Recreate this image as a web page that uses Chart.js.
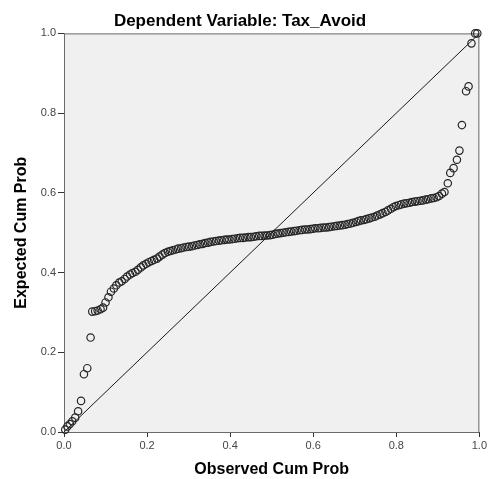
<!DOCTYPE html>
<html>
<head>
<meta charset="utf-8">
<script src="https://cdn.jsdelivr.net/npm/chart.js@4.4.1/dist/chart.umd.min.js"></script>
<style>
  html, body { margin: 0; padding: 0; background: #ffffff; }
  #wrap { width: 489px; height: 479px; }
</style>
</head>
<body>
<div id="wrap"><canvas id="ppChart" width="489" height="479"></canvas></div>
<script>
// Normal P-P plot of regression standardized residual
const chartTitle = 'Dependent Variable: Tax_Avoid';
const xTitle = 'Observed Cum Prob';
const yTitle = 'Expected Cum Prob';
const tickValues = [0, 0.2, 0.4, 0.6, 0.8, 1.0];

// observed cumulative probability (x)
const obsCum = [
  0.003, 0.008, 0.014, 0.020, 0.027, 0.034, 0.041, 0.048, 0.056, 0.064,
  0.068, 0.075, 0.081, 0.088, 0.094, 0.100, 0.107, 0.113, 0.120, 0.126,
  0.133, 0.139, 0.146, 0.152, 0.159, 0.165, 0.172, 0.178, 0.185, 0.191,
  0.198, 0.204, 0.211, 0.217, 0.224, 0.230, 0.237, 0.243, 0.250, 0.256,
  0.262, 0.269, 0.275, 0.282, 0.288, 0.295, 0.301, 0.308, 0.314, 0.321,
  0.327, 0.334, 0.340, 0.347, 0.353, 0.360, 0.366, 0.373, 0.379, 0.386,
  0.392, 0.398, 0.405, 0.411, 0.418, 0.424, 0.431, 0.437, 0.444, 0.450,
  0.457, 0.463, 0.470, 0.476, 0.483, 0.489, 0.496, 0.502, 0.509, 0.515,
  0.521, 0.528, 0.534, 0.541, 0.547, 0.554, 0.560, 0.567, 0.573, 0.580,
  0.586, 0.593, 0.599, 0.605, 0.612, 0.618, 0.625, 0.631, 0.638, 0.644,
  0.651, 0.657, 0.664, 0.670, 0.677, 0.683, 0.690, 0.696, 0.703, 0.709,
  0.715, 0.722, 0.728, 0.735, 0.741, 0.748, 0.754, 0.761, 0.767, 0.774,
  0.780, 0.787, 0.793, 0.799, 0.806, 0.812, 0.819, 0.825, 0.832, 0.838,
  0.845, 0.851, 0.858, 0.864, 0.871, 0.877, 0.884, 0.890, 0.897, 0.903,
  0.910, 0.916, 0.924, 0.930, 0.938, 0.946, 0.952, 0.958, 0.968, 0.974,
  0.981, 0.990, 0.995
];

// expected cumulative probability (y)
const expCum = [
  0.006, 0.014, 0.020, 0.027, 0.036, 0.052, 0.078, 0.145, 0.160, 0.237,
  0.302, 0.303, 0.305, 0.308, 0.312, 0.325, 0.338, 0.352, 0.360, 0.368,
  0.375, 0.378, 0.384, 0.390, 0.395, 0.399, 0.402, 0.407, 0.413, 0.418,
  0.422, 0.426, 0.429, 0.432, 0.435, 0.440, 0.445, 0.449, 0.452, 0.454,
  0.456, 0.458, 0.460, 0.461, 0.463, 0.464, 0.465, 0.466, 0.468, 0.469,
  0.471, 0.472, 0.474, 0.475, 0.477, 0.478, 0.479, 0.480, 0.481, 0.482,
  0.483, 0.483, 0.484, 0.485, 0.486, 0.487, 0.487, 0.488, 0.489, 0.489,
  0.490, 0.491, 0.492, 0.492, 0.493, 0.493, 0.494, 0.495, 0.497, 0.498,
  0.499, 0.500, 0.501, 0.502, 0.503, 0.504, 0.505, 0.506, 0.507, 0.508,
  0.508, 0.509, 0.510, 0.511, 0.511, 0.512, 0.513, 0.513, 0.514, 0.515,
  0.516, 0.517, 0.518, 0.519, 0.520, 0.522, 0.523, 0.525, 0.527, 0.529,
  0.531, 0.532, 0.534, 0.536, 0.538, 0.540, 0.543, 0.546, 0.549, 0.552,
  0.556, 0.560, 0.564, 0.567, 0.569, 0.571, 0.573, 0.574, 0.575, 0.577,
  0.578, 0.579, 0.580, 0.581, 0.583, 0.584, 0.586, 0.587, 0.589, 0.592,
  0.598, 0.602, 0.624, 0.650, 0.662, 0.683, 0.706, 0.770, 0.855, 0.867,
  0.975, 1.000, 1.000
];

// reference diagonal
const diagX = [0, 1];
const diagY = [0, 1];

const FONT = "Arial, 'Liberation Sans', sans-serif";

const points = obsCum.map((x, i) => ({ x: x, y: expCum[i] }));
const diagonal = diagX.map((x, i) => ({ x: x, y: diagY[i] }));

// grey plot background + frame
const plotFrame = {
  id: 'plotFrame',
  beforeDatasetsDraw(chart) {
    const { ctx, chartArea: a } = chart;
    ctx.save();
    ctx.fillStyle = '#f0f0f0';
    ctx.fillRect(a.left, a.top, a.right - a.left, a.bottom - a.top);
    ctx.strokeStyle = '#6a6a6a';
    ctx.lineWidth = 1;
    ctx.strokeRect(a.left + 0.5, a.top + 0.5, a.right - a.left - 1, a.bottom - a.top);
    ctx.restore();
  }
};

const ctx = document.getElementById('ppChart').getContext('2d');
const ppChart = new Chart(ctx, {
  type: 'scatter',
  data: {
    datasets: [
      {
        label: 'diagonal',
        data: diagonal,
        showLine: true,
        borderColor: '#1a1a1a',
        borderWidth: 1,
        pointRadius: 0,
        fill: false
      },
      {
        label: 'residuals',
        data: points,
        pointStyle: 'circle',
        pointRadius: 3.7,
        pointBorderWidth: 1.2,
        pointBorderColor: '#262626',
        pointBackgroundColor: 'rgba(0,0,0,0)',
        showLine: false,
        clip: false
      }
    ]
  },
  plugins: [plotFrame],
  options: {
    responsive: false,
    animation: false,
    layout: { padding: { left: 0, right: 9, top: 0, bottom: 0 } },
    plugins: {
      legend: { display: false },
      tooltip: { enabled: false },
      title: {
        display: true,
        text: chartTitle,
        color: '#000000',
        font: { family: FONT, size: 17, weight: 'bold' },
        padding: { top: 11, bottom: 2 }
      }
    },
    scales: {
      x: {
        type: 'linear',
        min: 0,
        max: 1,
        afterBuildTicks: (s) => { s.ticks = tickValues.map(v => ({ value: v })); },
        afterFit: (s) => { s.height = 47; },
        border: { display: true, color: '#333333', width: 1 },
        grid: { display: true, drawOnChartArea: false, drawTicks: true, tickLength: 5, color: '#333333' },
        ticks: {
          color: '#444444',
          padding: 2,
          maxRotation: 0,
          font: { family: FONT, size: 11 },
          callback: (v) => Number(v).toFixed(1)
        },
        title: {
          display: true,
          text: xTitle,
          color: '#000000',
          font: { family: FONT, size: 16, weight: 'bold' },
          padding: { top: 0, bottom: 0 }
        }
      },
      y: {
        type: 'linear',
        min: 0,
        max: 1,
        afterBuildTicks: (s) => { s.ticks = tickValues.map(v => ({ value: v })); },
        afterFit: (s) => { s.width = 64; },
        border: { display: true, color: '#333333', width: 1 },
        grid: { display: true, drawOnChartArea: false, drawTicks: true, tickLength: 6, color: '#333333' },
        ticks: {
          color: '#444444',
          padding: 2,
          font: { family: FONT, size: 11 },
          callback: (v) => Number(v).toFixed(1)
        },
        title: {
          display: true,
          text: yTitle,
          color: '#000000',
          font: { family: FONT, size: 16, weight: 'bold' },
          padding: { top: 12, bottom: 0 }
        }
      }
    }
  }
});
</script>
</body>
</html>
